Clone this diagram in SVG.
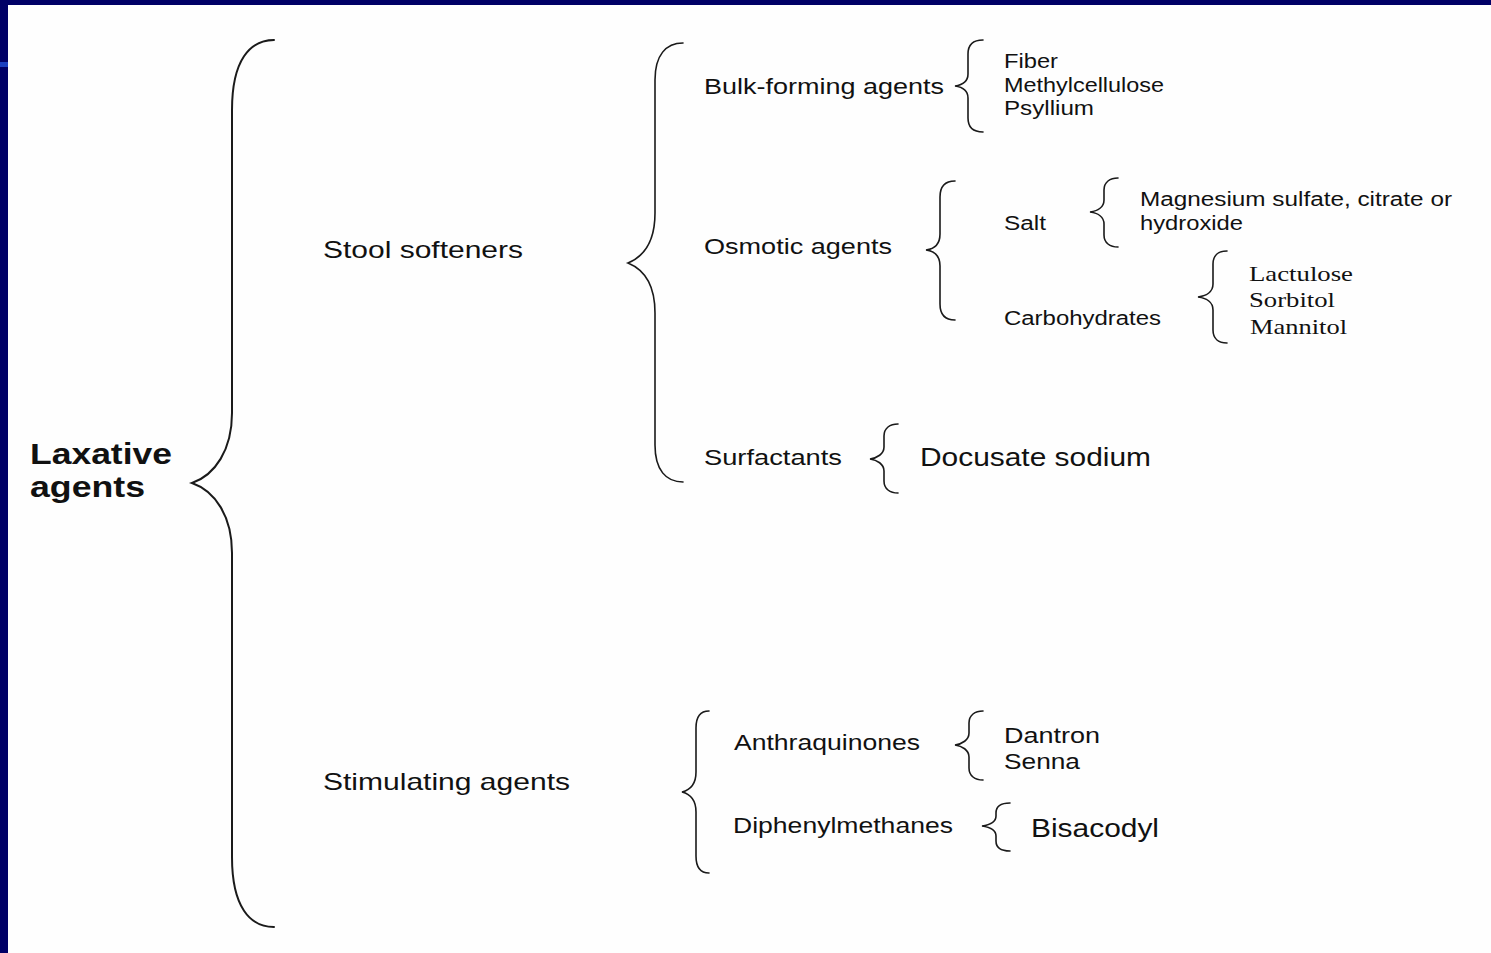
<svg xmlns="http://www.w3.org/2000/svg" width="1491" height="953" viewBox="0 0 1491 953">
<defs>
<style>
.br{fill:none;stroke:#1a1a1a;stroke-width:1.6;stroke-linecap:round}
.big{stroke-width:2}
text{font-family:"Liberation Sans",Arial,sans-serif;fill:#111;lengthAdjust:spacingAndGlyphs}
.b{font-weight:bold}
.s{font-family:"Liberation Serif","Times New Roman",serif}
</style>
</defs>
<rect x="0" y="0" width="1491" height="953" fill="#fefefe"/>
<rect x="0" y="0" width="1491" height="5" fill="#000066"/>
<rect x="0" y="0" width="8" height="953" fill="#000066"/>
<rect x="0" y="62" width="8" height="5" fill="#1a3fc0"/>

<g id="connectors">
<path class="br big" d="M274,40 C250,40 232,60 232,110 L232,413 C232,450 215,475 192,483 C215,491 232,516 232,553 L232,857 C232,907 250,927 274,927"/>
<path class="br" d="M683,43 C666,43 655,55 655,80 L655,213 C655,240 645,256 628,263 C645,270 655,286 655,313 L655,445 C655,470 666,482 683,482"/>
<path class="br" d="M709,711 C701,711 696,716 696,728 L696,772 C696,784 690,790 682,792 C690,794 696,800 696,812 L696,856 C696,868 701,873 709,873"/>
<path class="br" d="M983,40 C974,40 968,44 968,54 L968,74 C968,82 962,85 955,86 C962,87 968,90 968,98 L968,118 C968,128 974,132 983,132"/>
<path class="br" d="M955,181 C946,181 940,186 940,197 L940,234 C940,244 934,249 926,250 C934,251 940,256 940,266 L940,304 C940,315 946,320 955,320"/>
<path class="br" d="M1118,178 C1110,178 1104,182 1104,190 L1104,200 C1104,207 1098,211 1090,212 C1098,213 1104,217 1104,224 L1104,235 C1104,243 1110,247 1118,247"/>
<path class="br" d="M1227,251 C1219,251 1213,255 1213,264 L1213,284 C1213,292 1206,296 1198,297 C1206,298 1213,302 1213,310 L1213,330 C1213,339 1219,343 1227,343"/>
<path class="br" d="M898,424 C890,424 884,428 884,436 L884,447 C884,454 877,458 870,459 C877,460 884,464 884,471 L884,481 C884,489 890,493 898,493"/>
<path class="br" d="M983,711 C975,711 969,715 969,723 L969,733 C969,740 962,744 955,745 C962,746 969,750 969,757 L969,768 C969,776 975,780 983,780"/>
<path class="br" d="M1010,803 C1002,803 996,806 996,813 L996,816 C996,822 989,825 982,826 C989,827 996,830 996,836 L996,841 C996,848 1002,851 1010,851"/>
</g>

<g id="laxative"><text class="b" font-size="29" x="30" y="464" textLength="142" lengthAdjust="spacingAndGlyphs">Laxative</text><text class="b" font-size="29" x="30" y="497" textLength="115" lengthAdjust="spacingAndGlyphs">agents</text></g>
<g id="stool"><text font-size="24" x="323" y="258" textLength="200" lengthAdjust="spacingAndGlyphs">Stool softeners</text></g>
<g id="stimulating"><text font-size="24" x="323" y="790" textLength="247" lengthAdjust="spacingAndGlyphs">Stimulating agents</text></g>
<g id="bulk"><text font-size="22" x="704" y="94" textLength="240" lengthAdjust="spacingAndGlyphs">Bulk-forming agents</text></g>
<g id="bulk-items"><text font-size="19.5" x="1004" y="68" textLength="54" lengthAdjust="spacingAndGlyphs">Fiber</text><text font-size="19.5" x="1004" y="92" textLength="160" lengthAdjust="spacingAndGlyphs">Methylcellulose</text><text font-size="19.5" x="1004" y="115" textLength="90" lengthAdjust="spacingAndGlyphs">Psyllium</text></g>
<g id="osmotic"><text font-size="22" x="704" y="254" textLength="188" lengthAdjust="spacingAndGlyphs">Osmotic agents</text></g>
<g id="salt"><text font-size="20" x="1004" y="230" textLength="42" lengthAdjust="spacingAndGlyphs">Salt</text></g>
<g id="salt-items"><text font-size="20" x="1140" y="206" textLength="312" lengthAdjust="spacingAndGlyphs">Magnesium sulfate, citrate or</text><text font-size="20" x="1140" y="230" textLength="103" lengthAdjust="spacingAndGlyphs">hydroxide</text></g>
<g id="carbohydrates"><text font-size="20" x="1004" y="325" textLength="157" lengthAdjust="spacingAndGlyphs">Carbohydrates</text></g>
<g id="carb-items"><text class="s" font-size="22" x="1249" y="281" textLength="104" lengthAdjust="spacingAndGlyphs">Lactulose</text><text class="s" font-size="22" x="1249" y="307" textLength="86" lengthAdjust="spacingAndGlyphs">Sorbitol</text><text class="s" font-size="22" x="1250" y="334" textLength="97" lengthAdjust="spacingAndGlyphs">Mannitol</text></g>
<g id="surfactants"><text font-size="22" x="704" y="465" textLength="138" lengthAdjust="spacingAndGlyphs">Surfactants</text></g>
<g id="docusate"><text font-size="25" x="920" y="466" textLength="231" lengthAdjust="spacingAndGlyphs">Docusate sodium</text></g>
<g id="anthraquinones"><text font-size="22" x="734" y="750" textLength="186" lengthAdjust="spacingAndGlyphs">Anthraquinones</text></g>
<g id="anthra-items"><text font-size="22" x="1004" y="743" textLength="96" lengthAdjust="spacingAndGlyphs">Dantron</text><text font-size="22" x="1004" y="769" textLength="76" lengthAdjust="spacingAndGlyphs">Senna</text></g>
<g id="diphenylmethanes"><text font-size="22" x="733" y="833" textLength="220" lengthAdjust="spacingAndGlyphs">Diphenylmethanes</text></g>
<g id="bisacodyl"><text font-size="25" x="1031" y="837" textLength="128" lengthAdjust="spacingAndGlyphs">Bisacodyl</text></g>
</svg>
